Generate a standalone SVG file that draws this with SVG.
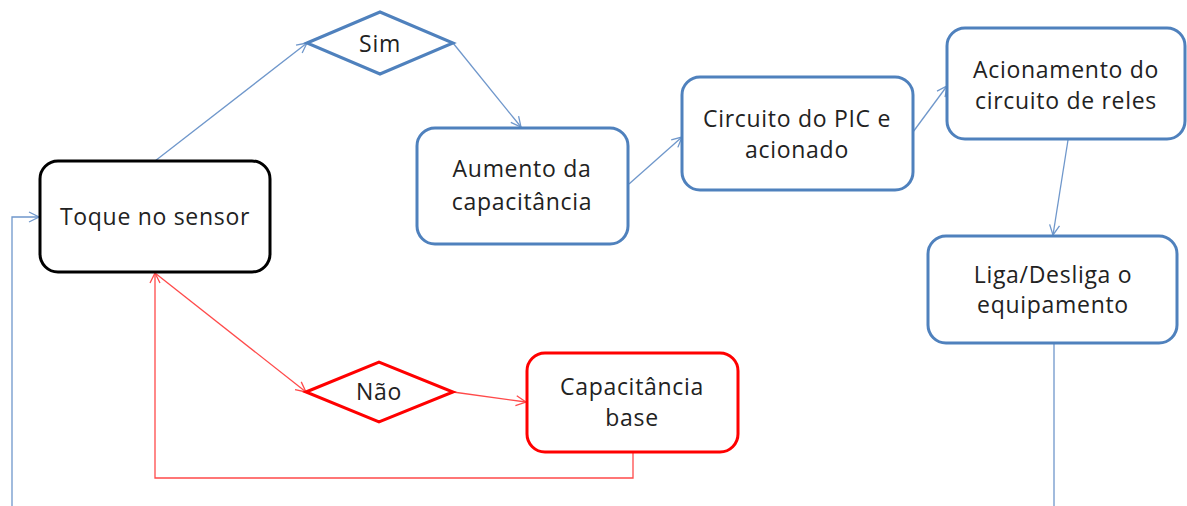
<svg xmlns="http://www.w3.org/2000/svg" width="1187" height="506" viewBox="0 0 1187 506">
<defs>
<style>
.box{fill:#fff;stroke-width:3}
.blue{stroke:#4F81BD}
.red{stroke:#FF0000}
.black{stroke:#000}
.t{font-family:"Open Sans","Liberation Sans",sans-serif;font-size:23px;fill:#222;text-anchor:middle;letter-spacing:0.7px}
.cb{fill:none;stroke:#6F97CB;stroke-width:1.3}
.cr{fill:none;stroke:#FF4A4A;stroke-width:1.3}
</style>
<marker id="ab" viewBox="0 0 12 12" refX="11" refY="6" markerWidth="12" markerHeight="12" markerUnits="userSpaceOnUse" orient="auto">
<path d="M1,1 L11,6 L1,11" fill="none" stroke="#6F97CB" stroke-width="1.3"/>
</marker>
<marker id="ar" viewBox="0 0 12 12" refX="11" refY="6" markerWidth="12" markerHeight="12" markerUnits="userSpaceOnUse" orient="auto">
<path d="M1,1 L11,6 L1,11" fill="none" stroke="#FF4A4A" stroke-width="1.3"/>
</marker>
</defs>
<rect width="1187" height="506" fill="#fff"/>
<g id="connectors">
<polyline class="cb" points="12,506 12,217 39,217" marker-end="url(#ab)"/>
<line class="cb" x1="155" y1="161" x2="307" y2="43" marker-end="url(#ab)"/>
<line class="cb" x1="453" y1="43" x2="521" y2="127" marker-end="url(#ab)"/>
<line class="cb" x1="629" y1="184" x2="682" y2="137" marker-end="url(#ab)"/>
<line class="cb" x1="913" y1="132" x2="947" y2="86" marker-end="url(#ab)"/>
<line class="cb" x1="1068" y1="140" x2="1053" y2="235" marker-end="url(#ab)"/>
<line class="cb" x1="1054" y1="344" x2="1054" y2="506"/>
<line class="cr" x1="155" y1="273" x2="306" y2="392" marker-end="url(#ar)"/>
<line class="cr" x1="453" y1="392" x2="526" y2="402" marker-end="url(#ar)"/>
<polyline class="cr" points="633,453 633,478 155,478 155,273" marker-end="url(#ar)"/>
</g>
<g id="toque">
<rect class="box black" x="40" y="161" width="230" height="111" rx="18"/>
<text class="t" x="155" y="225">Toque no sensor</text>
</g>
<g id="sim">
<polygon class="box blue" points="307,43 380,12 453,43 380,74"/>
<text class="t" x="380" y="52">Sim</text>
</g>
<g id="aumento">
<rect class="box blue" x="417" y="128" width="211" height="116" rx="18"/>
<text class="t" x="522" y="177">Aumento da</text>
<text class="t" x="522" y="210">capacitância</text>
</g>
<g id="circuito">
<rect class="box blue" x="682" y="77" width="231" height="113" rx="18"/>
<text class="t" x="797" y="127">Circuito do PIC e</text>
<text class="t" x="797" y="158">acionado</text>
</g>
<g id="acionamento">
<rect class="box blue" x="947" y="28" width="238" height="111" rx="18"/>
<text class="t" x="1066" y="78">Acionamento do</text>
<text class="t" x="1066" y="109">circuito de reles</text>
</g>
<g id="liga">
<rect class="box blue" x="928" y="236" width="249" height="107" rx="18"/>
<text class="t" x="1053" y="283">Liga/Desliga o</text>
<text class="t" x="1053" y="313">equipamento</text>
</g>
<g id="nao">
<polygon class="box red" points="306,392 379,362 453,392 379,422"/>
<text class="t" x="379" y="400">Não</text>
</g>
<g id="capacitancia">
<rect class="box red" x="527" y="353" width="211" height="99" rx="18"/>
<text class="t" x="632" y="395">Capacitância</text>
<text class="t" x="632" y="426">base</text>
</g>
</svg>
